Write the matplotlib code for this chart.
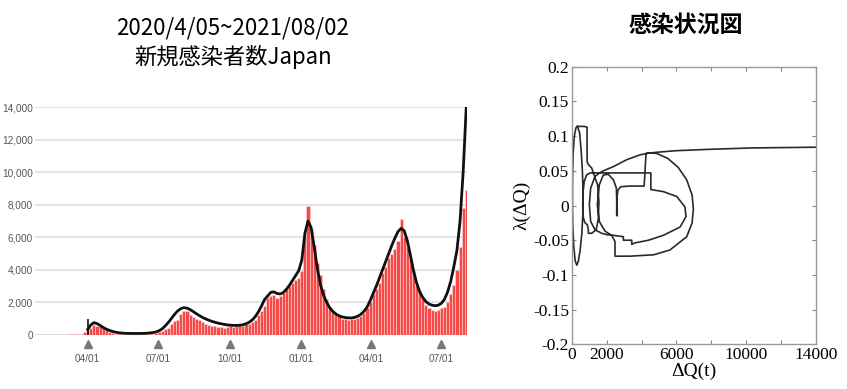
import matplotlib
matplotlib.use("Agg")
import matplotlib.pyplot as plt
import matplotlib.dates as mdates
import pandas as pd

# daily new cases (every 4th day), Japan
bar_start = "2020-02-01"
bar_values = [
    2, 3, 5, 8, 10, 15, 15, 20, 30, 40, 50, 40, 60, 90, 180,
    300, 450, 600, 550, 550, 400, 300, 200, 150, 90, 60, 40, 30, 25, 30,
    40, 45, 40, 50, 60, 70, 90, 110, 200, 250, 350, 450, 650, 850, 950,
    1300, 1450, 1500, 1250, 1100, 1000, 900, 800, 700, 600, 550, 550, 500, 500, 450,
    500, 550, 480, 550, 600, 550, 650, 700, 800, 900, 1200, 1500, 1800, 2300, 2400,
    2450, 2300, 2400, 2550, 2800, 3000, 3200, 3400, 3500, 3900, 6000, 7900, 6500, 5500, 4400,
    3700, 2800, 2200, 1750, 1450, 1300, 1150, 1000, 1000, 950, 1000, 1000, 1050, 1150, 1350,
    1650, 2000, 2500, 2800, 3200, 3800, 4200, 4700, 5000, 5300, 5800, 7100, 6000, 5400, 4700,
    3900, 3100, 2700, 2200, 1850, 1650, 1550, 1500, 1550, 1650, 1750, 2050, 2500, 3100, 4000,
    5400, 7800, 8900,
]
# smoothed curve (every 4th day from 04/01)
curve_start = "2020-04-01"
curve_values = [
    350, 620, 760, 700, 590, 460, 360, 280, 220, 170, 140, 120, 105, 100, 95,
    95, 95, 95, 100, 110, 125, 150, 190, 260, 380, 560, 780, 1020, 1270, 1480,
    1620, 1680, 1650, 1560, 1440, 1310, 1190, 1080, 990, 910, 840, 780, 730, 690, 650,
    620, 600, 590, 590, 600, 630, 690, 780, 920, 1130, 1420, 1780, 2180, 2400, 2620,
    2650, 2550, 2520, 2600, 2800, 3050, 3350, 3650, 3950, 4600, 6250, 7000, 6600, 5400, 4100,
    3100, 2450, 2000, 1680, 1450, 1290, 1180, 1110, 1070, 1050, 1050, 1080, 1150, 1270, 1450,
    1700, 2100, 2550, 3000, 3500, 4000, 4500, 5000, 5500, 5950, 6350, 6550, 6400, 5800, 4900,
    3950, 3200, 2650, 2300, 2050, 1900, 1830, 1800, 1830, 1950, 2200, 2650, 3300, 4200, 5200,
    7000, 10000, 14000,
]
start_mark = 1000
xtick_dates = ["2020-04-01", "2020-07-01", "2020-10-01", "2021-01-01", "2021-04-01", "2021-07-01"]
left_xlim = ["2020-01-24", "2021-08-03"]
left_yticks = [0, 2000, 4000, 6000, 8000, 10000, 12000, 14000]

# phase plot: lambda(dQ) against dQ(t), one continuous trajectory
dq = [323, 450, 540, 610, 650, 640, 580, 480, 380, 290, 200, 120, 60, 40, 45, 80, 150, 240, 323,
      500, 700, 880, 880, 885,
      953, 1145, 1280, 1480, 1560, 1520, 1400, 1145, 953, 953, 895, 762, 667,
      630, 650, 720, 850, 1050, 1430, 2500, 3500, 4535, 4535,
      5250, 6020, 6490, 6550, 6210, 5250, 4400, 3600, 3440, 3440, 2960, 2960,
      2400, 2000, 1717, 1335, 1086, 1010, 1086, 1335, 1600,
      1812, 2385, 3150, 3915, 4490, 4871,
      5500, 6100, 6590, 6900, 6972, 6900, 6590, 5635, 4700, 3343, 2480, 2480,
      2290, 1910, 1583, 1468, 1583, 1812, 2100, 2390, 2560, 2580, 2575, 2610, 2605,
      2590, 2650, 2800, 3300, 4150, 4200, 4260,
      4600, 5000, 6000, 7927, 10400, 14000]
lam = [0.114, 0.105, 0.080, 0.050, 0.020, -0.010, -0.040, -0.065, -0.080, -0.086, -0.080, -0.060, -0.030, 0.000, 0.040, 0.075, 0.100, 0.112, 0.114,
       0.114, 0.114, 0.113, 0.085, 0.063,
       0.059, 0.054, 0.044, 0.030, 0.005, -0.020, -0.035, -0.040, -0.040, -0.035, -0.028, -0.025, -0.018,
       0.000, 0.020, 0.035, 0.044, 0.047, 0.047, 0.047, 0.047, 0.047, 0.023,
       0.020, 0.013, -0.002, -0.016, -0.031, -0.043, -0.050, -0.054, -0.056, -0.050, -0.050, -0.045,
       -0.043, -0.042, -0.040, -0.035, -0.023, 0.001, 0.025, 0.042, 0.047,
       0.050, 0.056, 0.066, 0.073, 0.076, 0.075,
       0.068, 0.055, 0.037, 0.015, -0.005, -0.025, -0.045, -0.064, -0.071, -0.073, -0.073, -0.052,
       -0.043, -0.037, -0.023, 0.001, 0.030, 0.044, 0.045, 0.037, 0.025, 0.005, -0.013, -0.015, -0.005,
       0.012, 0.022, 0.027, 0.028, 0.028, 0.050, 0.075,
       0.076, 0.077, 0.079, 0.081, 0.083, 0.084]
right_xticks = [0, 2000, 4000, 6000, 8000, 10000, 12000, 14000]
right_xlabels = ["0", "2000", "", "6000", "", "10000", "", "14000"]
right_yticks = [-0.2, -0.15, -0.1, -0.05, 0, 0.05, 0.1, 0.15, 0.2]
right_ylabels = ["-0.2", "-0.15", "-0.1", "-0.05", "0", "0.05", "0.1", "0.15", "0.2"]

cjk = ["Noto Sans CJK JP", "DejaVu Sans"]
sans = ["Liberation Sans", "DejaVu Sans"]
serif = ["Liberation Serif", "DejaVu Serif"]

fig = plt.figure(figsize=(8.47, 3.89), dpi=100)

# ---- left: daily cases
ax1 = fig.add_axes([0.0413, 0.1388, 0.5101, 0.5861])
bar_dates = pd.date_range(bar_start, periods=len(bar_values), freq="4D")
curve_dates = pd.date_range(curve_start, periods=len(curve_values), freq="4D")
ax1.bar(bar_dates, bar_values, width=4, color="#f54a4a", edgecolor="#ffd4d4", linewidth=0.4, zorder=2)
ax1.plot(curve_dates, curve_values, color="#111111", linewidth=2, zorder=3)
ax1.vlines(curve_dates[0], 0, start_mark, color="#111111", linewidth=1.2, zorder=3)
ax1.set_xlim(pd.to_datetime(left_xlim[0]), pd.to_datetime(left_xlim[1]))
ax1.set_ylim(0, 14000)
ax1.set_yticks(left_yticks)
ax1.yaxis.set_major_formatter(matplotlib.ticker.FuncFormatter(lambda v, p: f"{v:,.0f}"))
ax1.grid(axis="y", color="#e2e2e2", linewidth=1.3, zorder=0)
ax1.axhline(0, color="#b0b0b0", linewidth=1.2, zorder=1)
for s in ["top", "right", "left", "bottom"]:
    ax1.spines[s].set_visible(False)
tick_dates = pd.to_datetime(xtick_dates)
ax1.set_xticks(tick_dates)
ax1.xaxis.set_major_formatter(mdates.DateFormatter("%m/%d"))
ax1.tick_params(axis="both", length=0, colors="#555555")
ax1.tick_params(axis="x", pad=14)
ax1.tick_params(axis="y", pad=1.5)
for lab in ax1.get_xticklabels() + ax1.get_yticklabels():
    lab.set_family(sans)
    lab.set_fontsize(7.2)
ax1.plot(tick_dates, [-0.04] * len(tick_dates), linestyle="none", marker="^", markersize=5.5,
         color="#777777", transform=ax1.get_xaxis_transform(), clip_on=False)

fig.text(0.275, 0.928, "2020/4/05~2021/08/02", ha="center", va="center", fontsize=16, family=cjk)
fig.text(0.275, 0.853, "新規感染者数Japan", ha="center", va="center", fontsize=16, family=cjk)

# ---- right: phase plot
ax2 = fig.add_axes([0.675, 0.1149, 0.2884, 0.7136])
ax2.plot(dq, lam, color="#2a2a2a", linewidth=1.2)
ax2.set_xlim(0, 14000)
ax2.set_ylim(-0.2, 0.2)
ax2.set_xticks(right_xticks)
ax2.set_xticklabels(right_xlabels)
ax2.set_yticks(right_yticks)
ax2.set_yticklabels(right_ylabels)
ax2.tick_params(direction="in", top=True, right=True, length=3, width=0.8, color="#888888",
                labelsize=12.5, pad=2)
for lab in ax2.get_xticklabels() + ax2.get_yticklabels():
    lab.set_family(serif)
for s in ax2.spines.values():
    s.set_color("#999999")
    s.set_linewidth(1)
ax2.set_xlabel("ΔQ(t)", family=serif, fontsize=14, labelpad=0)
ax2.set_ylabel("λ(ΔQ)", family=serif, fontsize=14, labelpad=2)
fig.text(0.81, 0.936, "感染状況図", ha="center", va="center", fontsize=16.5, family=cjk, weight="bold")

fig.savefig("out.png", dpi=100)
